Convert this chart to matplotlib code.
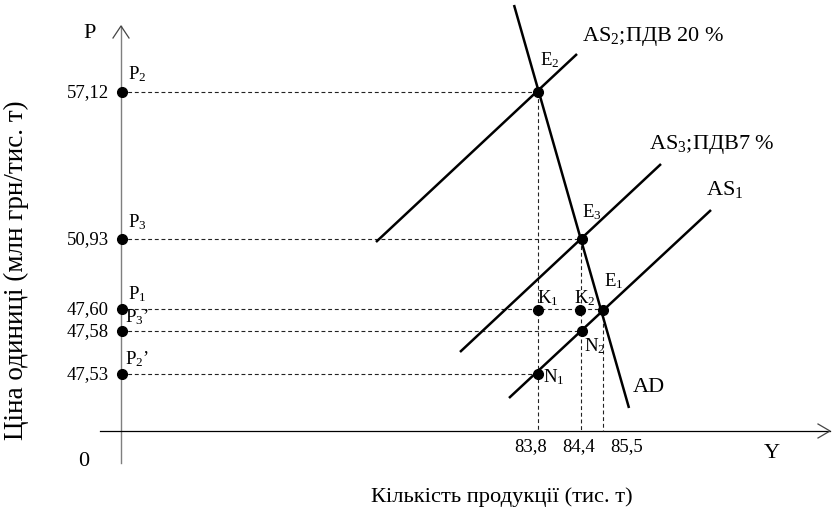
import matplotlib.pyplot as plt

plt.rcParams['font.family'] = ['Liberation Serif', 'DejaVu Serif']
plt.rcParams['mathtext.fontset'] = 'custom'
plt.rcParams['mathtext.rm'] = 'Liberation Serif'
plt.rcParams['mathtext.it'] = 'Liberation Serif:italic'

# values shown on the axes
price_labels = ['57,12', '50,93', '47,60', '47,58', '47,53']
price_names = [r'P$_2$', r'P$_3$', r'P$_1$', r'P$_3$’', r'P$_2$’']
qty_labels = ['83,8', '84,4', '85,5']

# schematic layout (diagram units, y grows downward)
price_pos = [92, 239, 309, 331, 374]
qty_pos = [538, 581, 603]
x_axis_y = 431
y_axis_x = 121

# curves: (x0, y0, x1, y1)
curves = {
    'AD': (514, 5, 629, 408),
    'AS2': (376, 242, 577, 54),
    'AS3': (460, 352, 661, 164),
    'AS1': (509, 398, 711, 210),
}

# equilibrium / reference points
points = {
    'E2': (538, 92), 'E3': (582, 239), 'E1': (603, 310),
    'K1': (538, 310), 'K2': (580, 310), 'N2': (582, 331), 'N1': (538, 374),
}

fig = plt.figure(figsize=(8.34, 5.13), dpi=100)
ax = fig.add_axes([0, 0, 1, 1])
ax.set_xlim(0, 834)
ax.set_ylim(513, 0)
ax.axis('off')

# axes
ax.plot([y_axis_x, y_axis_x], [26, 463], color='#7f7f7f', lw=1.0)
ax.plot([y_axis_x - 8, y_axis_x, y_axis_x + 8], [38, 26, 38], color='#444444', lw=0.9)
ax.plot([100, 830], [x_axis_y, x_axis_y], color='black', lw=0.9)
ax.plot([818, 830, 818], [424, x_axis_y, 438], color='#444444', lw=0.9)

dash = dict(color='#222222', lw=0.8, ls=(0, (3.5, 2.5)))
# horizontal guides from P axis to the points
h_ends = [points['E2'][0], points['E3'][0], points['E1'][0], points['N2'][0], points['N1'][0]]
for y, xe in zip(price_pos, h_ends):
    ax.plot([y_axis_x, xe], [y, y], **dash)
# vertical guides down to the Y axis
v_tops = [points['E2'][1], points['E3'][1], points['E1'][1]]
for x, yt in zip(qty_pos, v_tops):
    ax.plot([x, x], [yt, x_axis_y], **dash)

for k, (x0, y0, x1, y1) in curves.items():
    ax.plot([x0, x1], [y0, y1], color='black', lw=1.8, solid_capstyle='butt')

# dots
px = [p[0] for p in points.values()] + [y_axis_x + 1] * len(price_pos)
py = [p[1] for p in points.values()] + price_pos
ax.plot(px, py, 'o', color='black', ms=7, zorder=5)

fs_small = 13.5
for lab, y in zip(price_labels, price_pos):
    ax.text(y_axis_x - 12, y + 1, lab, ha='right', va='center', fontsize=13.5)
name_off = [(128, 74), (128, 222), (128, 294), (125, 317), (125, 359)]
for nm, (x, y) in zip(price_names, name_off):
    ax.text(x, y, nm, ha='left', va='center', fontsize=fs_small)

qty_text_x = [531, 579, 627]
for lab, x in zip(qty_labels, qty_text_x):
    ax.text(x, 447, lab, ha='center', va='center', fontsize=13.5)

ax.text(90, 33, 'P', ha='center', va='center', fontsize=16)
ax.text(84, 462, '0', ha='center', va='center', fontsize=16)
ax.text(772, 453, 'Y', ha='center', va='center', fontsize=16)

ax.text(582, 37, r'A$\mathrm{S}_2$;ПДВ 20 %', ha='left', va='center', fontsize=16)
ax.text(649, 145, r'A$\mathrm{S}_3$;ПДВ7 %', ha='left', va='center', fontsize=16)
ax.text(706, 190, r'A$\mathrm{S}_1$', ha='left', va='center', fontsize=16)
ax.text(633, 388, 'AD', ha='left', va='center', fontsize=16)

pt_labels = {
    'E2': (540, 60), 'E3': (582, 212), 'E1': (604, 281),
    'K1': (537, 298), 'K2': (574, 298), 'N2': (584, 346), 'N1': (543, 377),
}
for nm, (x, y) in pt_labels.items():
    ax.text(x, y, nm[0] + r'$_' + nm[1] + '$', ha='left', va='center', fontsize=fs_small)

ax.text(16, 270, 'Ціна одиниці (млн грн/тис. т)', rotation=90, ha='center', va='center', fontsize=19.5)
ax.text(502, 497, 'Кількість продукції (тис. т)', ha='center', va='center', fontsize=16.2)

fig.savefig('out.png', dpi=100)
